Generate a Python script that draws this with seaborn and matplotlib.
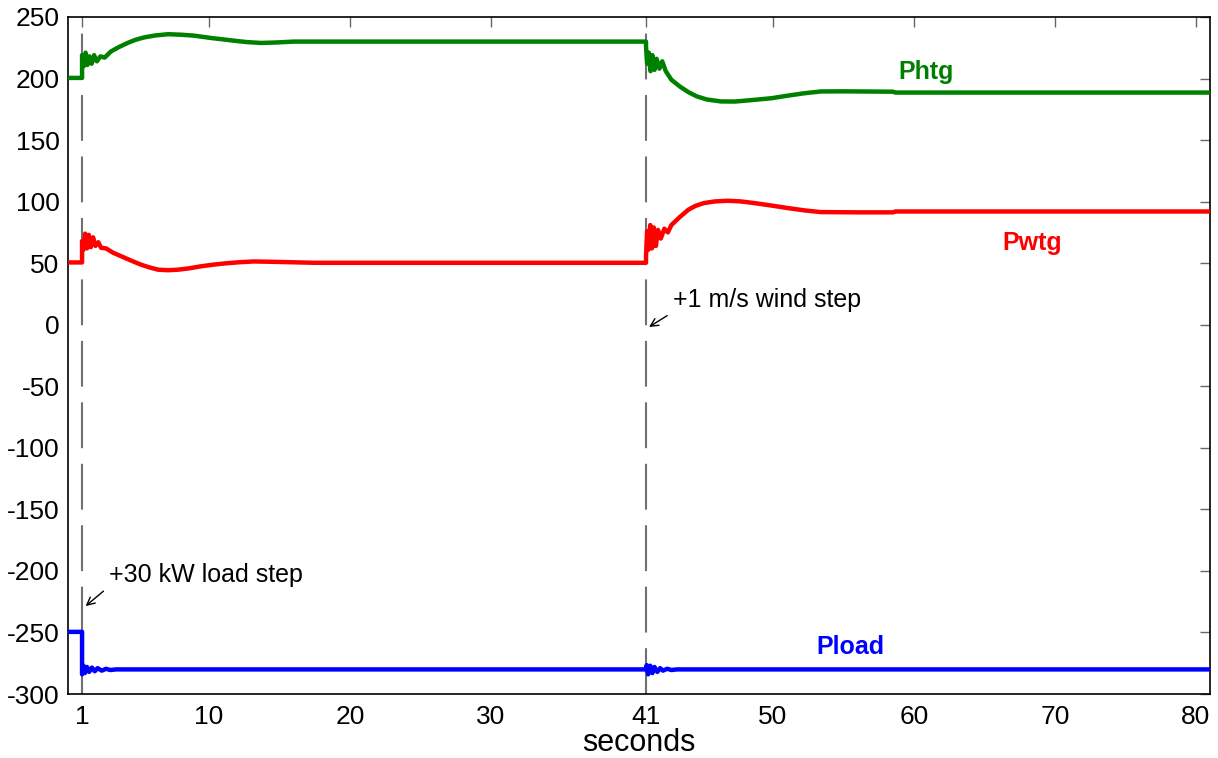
import matplotlib
matplotlib.use("Agg")
import matplotlib.pyplot as plt
import seaborn as sns
import pandas as pd

# Hydro turbine generator output (kW)
t_phtg = [0, 1.0, 1.0, 1.12, 1.25, 1.38, 1.52, 1.68, 1.85, 2.05, 2.3, 2.6, 3.05, 3.6, 4.25,
          4.8, 5.4, 6.2, 7.1, 8.0, 8.9, 10.1, 11.0, 11.8, 12.7, 13.7, 14.8, 16.0, 18.0,
          41.0, 41.0, 41.08, 41.2, 41.32, 41.45, 41.6, 41.75, 41.95, 42.15, 42.4, 42.8,
          43.4, 44.0, 44.6, 45.3, 46.3, 47.3, 48.5, 49.9, 51.0, 52.2, 53.4, 55.0, 58.5, 58.7, 81.0]
p_phtg = [200.5, 200.5, 219, 210, 221, 211, 218, 212, 219, 214, 218, 217, 222, 225.5, 229,
          231.5, 233.4, 235, 236, 235.6, 234.9, 233, 231.8, 230.7, 229.6, 228.9, 229.3, 230, 230,
          230, 226, 212, 221, 206, 219, 207, 216, 208, 214, 206, 199,
          193.5, 189, 185.5, 183, 181.4, 181.3, 182.5, 184, 186, 188, 189.5, 189.6, 189.3, 188.6, 188.6]

# Wind turbine generator output (kW)
t_pwtg = [0, 1.0, 1.0, 1.1, 1.22, 1.35, 1.48, 1.62, 1.78, 1.95, 2.15, 2.35, 2.7, 3.2, 3.8,
          4.5, 5.2, 5.8, 6.4, 7.1, 7.8, 8.6, 9.4, 10.3, 11.3, 12.2, 13.2, 15.0, 17.5,
          41.0, 41.0, 41.08, 41.18, 41.3, 41.42, 41.55, 41.7, 41.85, 42.05, 42.3, 42.55, 42.8,
          43.4, 44.0, 44.5, 45.1, 45.9, 46.8, 47.7, 48.7, 49.9, 51.1, 52.3, 53.4, 56.0, 58.5,
          58.7, 81.0]
p_pwtg = [50.6, 50.6, 68, 61, 74, 62, 73, 63, 71, 64, 67, 62.5, 62, 58.5, 55.5,
          52, 48.7, 46.5, 44.7, 44.3, 44.7, 45.8, 47.4, 48.8, 50, 50.8, 51.4, 51, 50.3,
          50.3, 56, 76, 61, 81, 62, 79, 64, 77, 70, 78, 75, 81,
          87.5, 93.4, 96.5, 98.8, 100.2, 100.7, 100.2, 98.8, 96.8, 94.7, 92.8, 91.5, 91.3, 91.3,
          92, 92]

# Load demand (kW)
t_pload = [0, 1.0, 1.0, 1.1, 1.2, 1.35, 1.5, 1.7, 1.9, 2.1, 2.4, 2.7, 3.0, 3.4, 41.0, 41.05,
           41.15, 41.3, 41.45, 41.6, 41.8, 42.0, 42.2, 42.5, 42.8, 43.2, 81.0]
p_pload = [-249.5, -249.5, -284, -277, -283, -278, -282, -278.5, -281.5, -279, -281, -279.5,
           -280.5, -280, -280, -276.5, -284, -277, -283, -278, -282, -279, -281, -279.5,
           -280.5, -280, -280]

series_names = ["Phtg", "Pwtg", "Pload"]
series_colors = ["#008000", "#ff0000", "#0000ff"]
event_times = [1, 41]
x_ticks = [1, 10, 20, 30, 41, 50, 60, 70, 80]
y_ticks = [250, 200, 150, 100, 50, 0, -50, -100, -150, -200, -250, -300]

df = pd.concat([
    pd.DataFrame({"t": t_phtg, "P": p_phtg, "series": "Phtg"}),
    pd.DataFrame({"t": t_pwtg, "P": p_pwtg, "series": "Pwtg"}),
    pd.DataFrame({"t": t_pload, "P": p_pload, "series": "Pload"}),
], ignore_index=True)

sns.set_style("white")
plt.rcParams["font.family"] = ["Liberation Sans", "DejaVu Sans"]
plt.rcParams["axes.unicode_minus"] = False
plt.rcParams["text.color"] = "black"
plt.rcParams["axes.labelcolor"] = "black"

fig = plt.figure(figsize=(12.18, 7.58), dpi=100)
ax = fig.add_axes([0.0558, 0.0844, 0.9376, 0.8932])

# one continuous path per series, points kept in time order as listed
for name, color in zip(series_names, series_colors):
    sub = df[df["series"] == name]
    sns.lineplot(x=sub["t"].to_numpy(), y=sub["P"].to_numpy(), sort=False, estimator=None,
                 color=color, linewidth=3.2, ax=ax, zorder=3,
                 solid_joinstyle="round", solid_capstyle="butt")

for et in event_times:
    ax.axvline(et, color="#707070", linewidth=1.5, linestyle=(0, (22, 7.5)), zorder=2)

ax.set_xlim(0, 81)
ax.set_ylim(-300, 250)
ax.set_xticks(x_ticks)
ax.set_yticks(y_ticks)
ax.tick_params(direction="in", length=7, width=1, color="#666666", labelcolor="black",
               labelsize=19, top=True, right=True, pad=6)
ax.tick_params(axis="x", pad=8)
for sp in ax.spines.values():
    sp.set_visible(True)
    sp.set_color("black")
    sp.set_linewidth(1.2)

ax.set_xlabel("seconds", fontsize=22, labelpad=-1)
ax.set_ylabel("")

ax.text(60.85, 205, "Phtg", color=series_colors[0], fontsize=18, fontweight="bold",
        ha="center", va="center")
ax.text(68.4, 66.5, "Pwtg", color=series_colors[1], fontsize=18, fontweight="bold",
        ha="center", va="center")
ax.text(55.5, -261.5, "Pload", color=series_colors[2], fontsize=18, fontweight="bold",
        ha="center", va="center")

arrow = dict(arrowstyle="->", color="black", lw=1, mutation_scale=14, relpos=(0.0, 0.0))
ax.annotate("+1 m/s wind step", xy=(41.05, -3), xytext=(42.9, 20), fontsize=18,
            va="center", ha="left", arrowprops=arrow)
ax.annotate("+30 kW load step", xy=(1.1, -230), xytext=(2.9, -203), fontsize=18,
            va="center", ha="left", arrowprops=arrow)

fig.savefig("out.png", dpi=100, facecolor="white")
